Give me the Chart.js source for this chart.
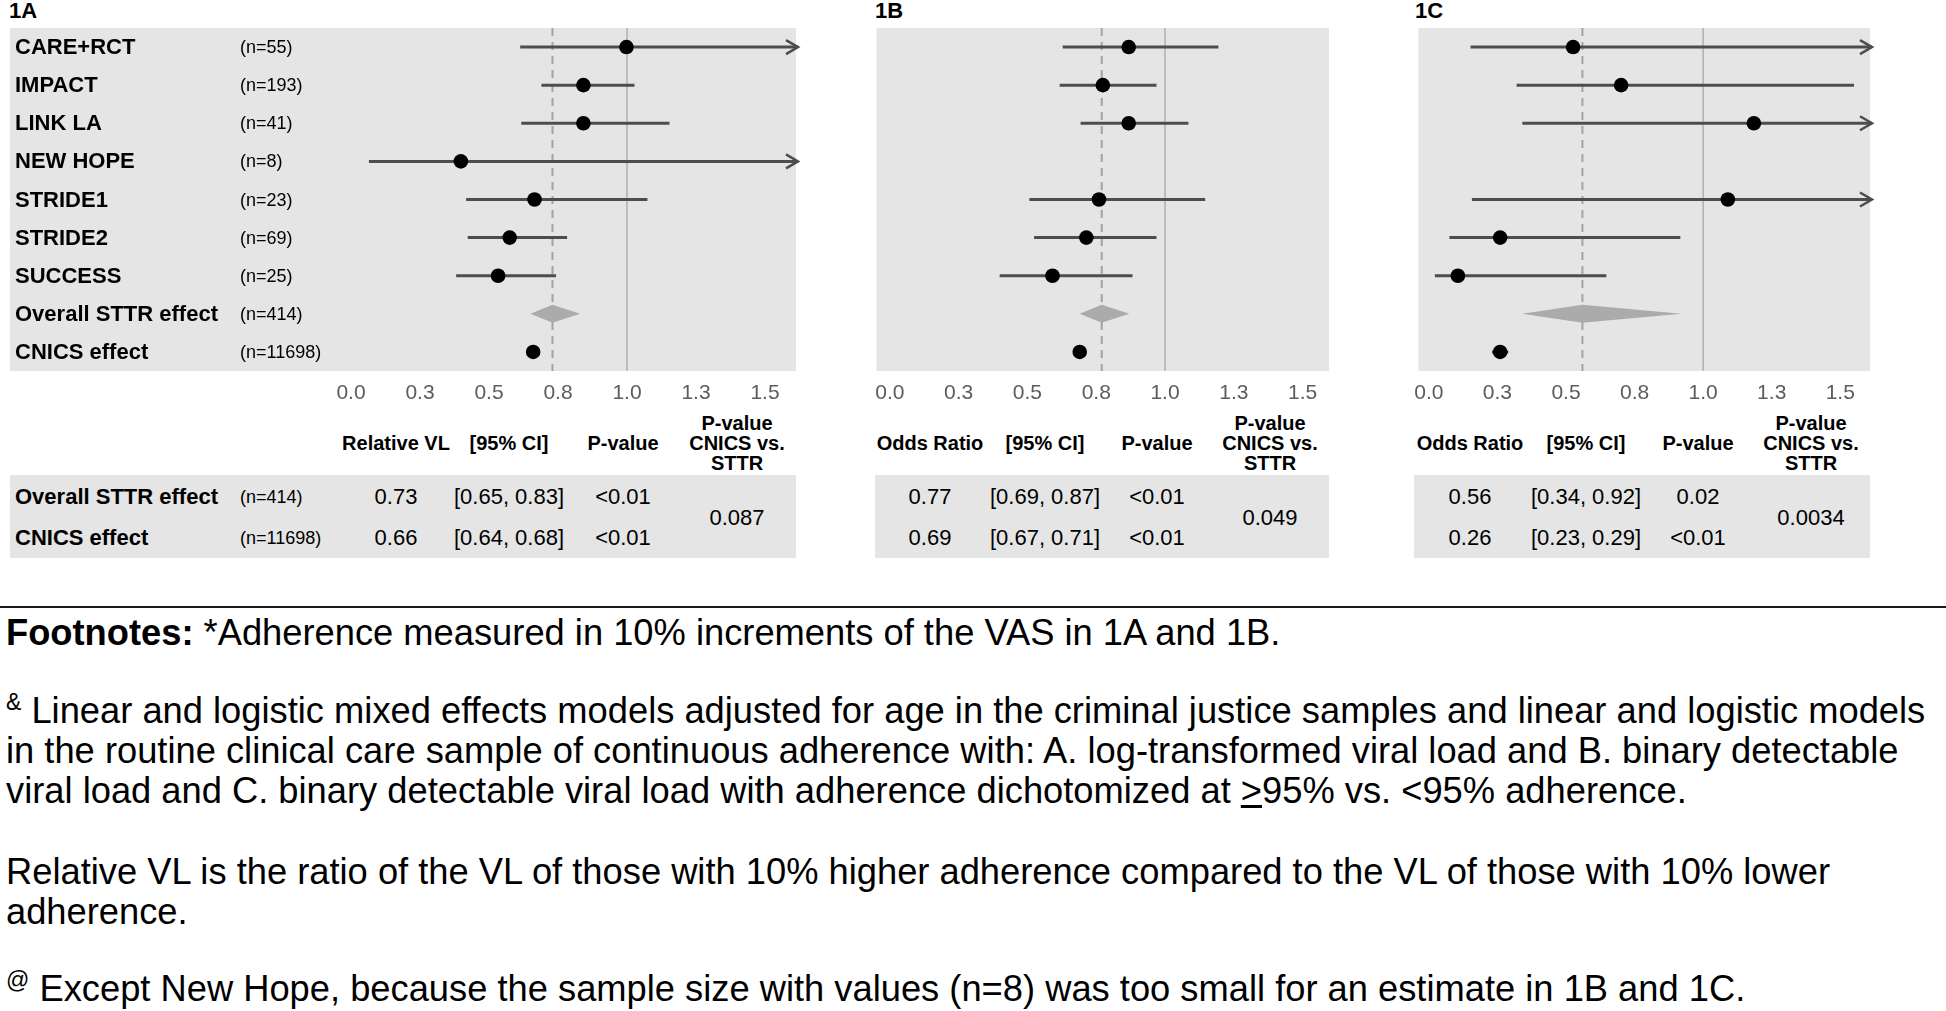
<!DOCTYPE html>
<html>
<head>
<meta charset="utf-8">
<title>Adherence forest plots 1A-1C</title>
<script src="https://cdn.jsdelivr.net/npm/chart.js@4.4.1/dist/chart.umd.min.js"></script>
<style>
  html, body { margin:0; padding:0; background:#fff; }
  body { width:1946px; height:1011px; position:relative; overflow:hidden;
         font-family:"Liberation Sans", Arial, Helvetica, sans-serif; color:#000; }
  canvas { position:absolute; }
  .ptitle { position:absolute; top:0; font-weight:bold; font-size:22px; line-height:22px; }
  .tbox { position:absolute; top:475px; height:83px; background:#e5e5e5; }
  .cell { position:absolute; white-space:nowrap; text-align:center; transform:translate(-50%,-50%); }
  .hdr { font-weight:bold; font-size:20px; line-height:20px; }
  .val { font-size:22px; line-height:24px; }
  .rlab { position:absolute; white-space:nowrap; font-weight:bold; font-size:22px; line-height:24px; transform:translateY(-50%); }
  .rn { position:absolute; white-space:nowrap; font-size:18px; line-height:20px; transform:translateY(-50%); }
  .rule { position:absolute; left:0; top:606px; width:1946px; height:2px; background:#1a1a1a; }
  .fn { position:absolute; left:6px; font-size:36.3px; line-height:40px; white-space:nowrap; }
  .fn sup { font-size:23px; line-height:22px; vertical-align:top; }
</style>
</head>
<body>

<div class="ptitle" style="left:9px">1A</div>
<div class="ptitle" style="left:875px">1B</div>
<div class="ptitle" style="left:1415px">1C</div>

<div class="tbox" style="left:10px;width:786px"></div>
<div class="tbox" style="left:875px;width:454px"></div>
<div class="tbox" style="left:1414px;width:456px"></div>

<div class="rule"></div>
<div class="fn" style="top:613px"><b>Footnotes:</b> *Adherence measured in 10% increments of the VAS in 1A and 1B.</div>
<div class="fn" style="top:691px"><sup>&amp;</sup> Linear and logistic mixed effects models adjusted for age in the criminal justice samples and linear and logistic models<br>in the routine clinical care sample of continuous adherence with: A. log-transformed viral load and B. binary detectable<br>viral load and C. binary detectable viral load with adherence dichotomized at <u>&gt;</u>95% vs. &lt;95% adherence.</div>
<div class="fn" style="top:852px">Relative VL is the ratio of the VL of those with 10% higher adherence compared to the VL of those with 10% lower<br>adherence.</div>
<div class="fn" style="top:969px"><sup>@</sup> Except New Hope, because the sample size with values (n=8) was too small for an estimate in 1B and 1C.</div>

<script>
/* ---------- data ---------- */
var rowLabels = ['CARE+RCT', 'IMPACT', 'LINK LA', 'NEW HOPE', 'STRIDE1', 'STRIDE2', 'SUCCESS',
                 'Overall STTR effect', 'CNICS effect'];
var rowN      = ['(n=55)', '(n=193)', '(n=41)', '(n=8)', '(n=23)', '(n=69)', '(n=25)',
                 '(n=414)', '(n=11698)'];
var tickVals  = [0, 0.25, 0.5, 0.75, 1, 1.25, 1.5];

// 1A relative VL per study; null upper = interval runs off the axis (arrow)
var estA = [0.998, 0.842, 0.842, 0.398, 0.665, 0.575, 0.533];
var loA  = [0.613, 0.690, 0.617, 0.065, 0.417, 0.423, 0.381];
var hiA  = [null,  1.027, 1.154, null,  1.074, 0.783, 0.743];
var overallA = [0.65, 0.73, 0.83];   // lo, est, hi
var cnicsA   = [0.64, 0.66, 0.68];

// 1B odds ratio (no estimate for NEW HOPE)
var estB = [0.868, 0.774, 0.868, null, 0.760, 0.714, 0.591];
var loB  = [0.628, 0.617, 0.693, null, 0.507, 0.524, 0.399];
var hiB  = [1.194, 0.969, 1.085, null, 1.146, 0.969, 0.882];
var overallB = [0.69, 0.77, 0.87];
var cnicsB   = [0.67, 0.69, 0.71];

// 1C odds ratio, adherence >=95%
var estC = [0.526, 0.701, 1.185, null, 1.090, 0.260, 0.106];
var loC  = [0.152, 0.320, 0.341, null, 0.157, 0.075, 0.022];
var hiC  = [null,  1.550, null,  null, null,  0.917, 0.647];
var overallC = [0.34, 0.56, 0.92];
var cnicsC   = [0.23, 0.26, 0.29];

// summary tables
var headVL = ['Relative VL', '[95% CI]', 'P-value', 'P-value<br>CNICS vs.<br>STTR'];
var headOR = ['Odds Ratio', '[95% CI]', 'P-value', 'P-value<br>CNICS vs.<br>STTR'];
var tblA = [['0.73', '[0.65, 0.83]', '&lt;0.01'], ['0.66', '[0.64, 0.68]', '&lt;0.01']];
var tblB = [['0.77', '[0.69, 0.87]', '&lt;0.01'], ['0.69', '[0.67, 0.71]', '&lt;0.01']];
var tblC = [['0.56', '[0.34, 0.92]', '0.02'],     ['0.26', '[0.23, 0.29]', '&lt;0.01']];
var pCompA = '0.087', pCompB = '0.049', pCompC = '0.0034';

/* ---------- layout ---------- */
var PLOT_TOP = 28, PLOT_H = 343, AXIS_H = 40;
var PAD_L = 10, PAD_R = 20;
var DIAMOND_H = 0.236;      // half height of pooled diamond, in rows
var HDR_Y = 443, ROW_Y = [497, 538], PCOMP_Y = 518;

var panels = [
  { left:10,   width:786, x0:351,    unit:276, est:estA, lo:loA, hi:hiA, overall:overallA, cnics:cnicsA,
    head:headVL, tbl:tblA, pComp:pCompA, cols:[396, 509, 623, 737], labels:true },
  { left:875,  width:454, x0:888.5,  unit:276, est:estB, lo:loB, hi:hiB, overall:overallB, cnics:cnicsB,
    head:headOR, tbl:tblB, pComp:pCompB, cols:[930, 1045, 1157, 1270], labels:false },
  { left:1414, width:456, x0:1424.5, unit:277, est:estC, lo:loC, hi:hiC, overall:overallC, cnics:cnicsC,
    head:headOR, tbl:tblC, pComp:pCompC, cols:[1470, 1586, 1698, 1811], labels:false }
];

var CI_COLOR = '#4d4d4d';

// grey panel background
var bgPlugin = {
  id: 'panelBg',
  beforeDraw: function (chart) {
    var a = chart.chartArea, ctx = chart.ctx;
    ctx.save();
    ctx.fillStyle = '#e5e5e5';
    ctx.fillRect(a.left, a.top, a.right - a.left, a.bottom - a.top);
    ctx.restore();
  }
};

// open arrow heads for intervals that leave the axis
var arrowPlugin = {
  id: 'arrows',
  afterDatasetsDraw: function (chart, args, opts) {
    var xs = chart.scales.x, ys = chart.scales.y, ctx = chart.ctx;
    ctx.save();
    ctx.strokeStyle = CI_COLOR;
    ctx.lineWidth = 2.5;
    opts.rows.forEach(function (i) {
      var px = xs.getPixelForValue(opts.cap), py = ys.getPixelForValue(i);
      ctx.beginPath();
      ctx.moveTo(px - 12, py - 7);
      ctx.lineTo(px, py);
      ctx.lineTo(px - 12, py + 7);
      ctx.stroke();
    });
    ctx.restore();
  }
};

function addDiv(cls, html, x, y) {
  var el = document.createElement('div');
  el.className = cls;
  el.innerHTML = html;
  el.style.left = x + 'px';
  el.style.top = y + 'px';
  document.body.appendChild(el);
  return el;
}

function buildPanel(p) {
  var W = p.width + PAD_L + PAD_R, H = PLOT_H + AXIS_H;
  var cv = document.createElement('canvas');
  cv.width = W; cv.height = H;
  cv.style.width = W + 'px'; cv.style.height = H + 'px';
  cv.style.left = (p.left - PAD_L) + 'px';
  cv.style.top = PLOT_TOP + 'px';
  document.body.appendChild(cv);

  var xMin = (p.left - p.x0) / p.unit;
  var xMax = (p.left + p.width - p.x0) / p.unit;
  var cap = xMax + 2 / p.unit;

  var datasets = [];
  // reference lines: null effect and pooled STTR estimate
  datasets.push({ data: [{ x: 1, y: -0.5 }, { x: 1, y: 8.5 }],
    borderColor: '#b0b0b0', borderWidth: 1.5, pointRadius: 0, order: 10 });
  datasets.push({ data: [{ x: p.overall[1], y: -0.5 }, { x: p.overall[1], y: 8.5 }],
    borderColor: '#a3a3a3', borderWidth: 2, borderDash: [8, 6], pointRadius: 0, order: 9 });

  var pts = [], arrowRows = [];
  p.est.forEach(function (e, i) {
    if (e === null) return;
    var hi = p.hi[i];
    if (hi === null) { hi = cap; arrowRows.push(i); }
    datasets.push({ data: [{ x: p.lo[i], y: i }, { x: hi, y: i }],
      borderColor: CI_COLOR, borderWidth: 3, pointRadius: 0, order: 5, clip: false });
    pts.push({ x: e, y: i });
  });

  // CNICS effect
  datasets.push({ data: [{ x: p.cnics[0], y: 8 }, { x: p.cnics[2], y: 8 }],
    borderColor: CI_COLOR, borderWidth: 3, pointRadius: 0, order: 5 });
  pts.push({ x: p.cnics[1], y: 8 });

  // pooled STTR diamond
  var o = p.overall;
  datasets.push({
    data: [{ x: o[0], y: 7 }, { x: o[1], y: 7 - DIAMOND_H }, { x: o[2], y: 7 },
           { x: o[1], y: 7 + DIAMOND_H }, { x: o[0], y: 7 }],
    fill: 'shape', backgroundColor: '#ababab', borderColor: '#ababab', borderWidth: 0,
    pointRadius: 0, order: 4
  });

  datasets.push({ data: pts, showLine: false, pointRadius: 7.3, pointBackgroundColor: '#000',
    pointBorderWidth: 0, order: 0 });

  var chart = new Chart(cv, {
    type: 'line',
    data: { datasets: datasets },
    options: {
      responsive: false,
      animation: false,
      events: [],
      layout: { autoPadding: false, padding: { left: PAD_L, right: PAD_R, top: 0, bottom: 0 } },
      plugins: {
        legend: { display: false },
        tooltip: { enabled: false },
        arrows: { rows: arrowRows, cap: cap }
      },
      scales: {
        x: {
          type: 'linear', min: xMin, max: xMax,
          grid: { display: false, drawTicks: false },
          border: { display: false },
          afterBuildTicks: function (scale) {
            scale.ticks = tickVals.map(function (v) { return { value: v }; });
          },
          afterFit: function (scale) { scale.height = AXIS_H; },
          ticks: {
            autoSkip: false, maxRotation: 0, padding: 10,
            color: '#5c5c5c',
            font: { family: '"Liberation Sans", Arial, sans-serif', size: 21 },
            callback: function (v) { return Number(v).toFixed(1); }
          }
        },
        y: { type: 'linear', min: -0.5, max: 8.5, reverse: true, display: false }
      }
    },
    plugins: [bgPlugin, arrowPlugin]
  });

  // row labels inside panel 1A, placed through the y scale
  if (p.labels) {
    var ys = chart.scales.y;
    rowLabels.forEach(function (lab, i) {
      var y = PLOT_TOP + ys.getPixelForValue(i);
      addDiv('rlab', lab, p.left + 5, y);
      addDiv('rn', rowN[i], p.left + 230, y);
    });
    // summary table row labels
    addDiv('rlab', rowLabels[7], p.left + 5, ROW_Y[0]);
    addDiv('rn', rowN[7], p.left + 230, ROW_Y[0]);
    addDiv('rlab', rowLabels[8], p.left + 5, ROW_Y[1]);
    addDiv('rn', rowN[8], p.left + 230, ROW_Y[1]);
  }

  // summary table
  p.head.forEach(function (h, c) { addDiv('cell hdr', h, p.cols[c], HDR_Y); });
  p.tbl.forEach(function (row, r) {
    row.forEach(function (v, c) { addDiv('cell val', v, p.cols[c], ROW_Y[r]); });
  });
  addDiv('cell val', p.pComp, p.cols[3], PCOMP_Y);
}

panels.forEach(buildPanel);
</script>
</body>
</html>
